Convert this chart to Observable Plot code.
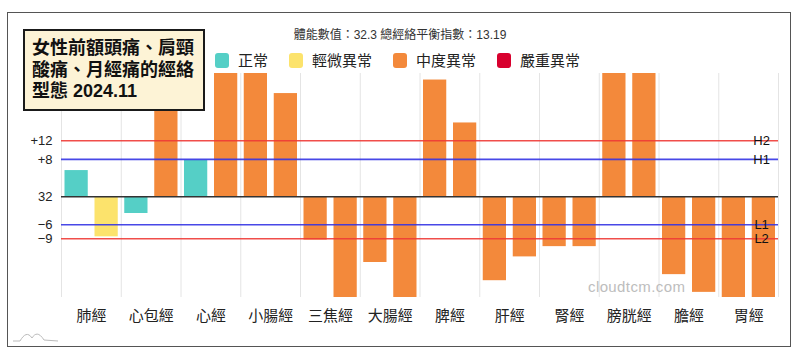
<!DOCTYPE html>
<html>
<head>
<meta charset="utf-8">
<script src="https://cdn.jsdelivr.net/npm/d3@7"></script>
<script src="https://cdn.jsdelivr.net/npm/@observablehq/plot@0.6"></script>
<style>
  body { margin: 0; background: #fff; }
  #wrap { position: relative; width: 800px; height: 359px; overflow: hidden;
          font-family: "Liberation Sans", "Noto Sans CJK TC", sans-serif; color: #222; }
  #chart { position: absolute; left: 0; top: 0; }
  #frame { position: absolute; left: 7px; top: 12px; width: 784px; height: 335px;
           border: 1.5px solid #555; box-sizing: border-box; pointer-events: none; }
  #subtitle { position: absolute; left: 0; width: 800px; top: 25px; text-align: center;
              font-size: 12px; color: #333; }
  #legend { position: absolute; left: 215px; top: 52px; display: flex; gap: 21px; }
  .item { display: flex; align-items: center; font-size: 15px; line-height: 17px; color: #222; }
  .sw { width: 14px; height: 15px; border-radius: 3px; margin-right: 9px; }
  #title { position: absolute; left: 23px; top: 29px; width: 182px; height: 82px; box-sizing: border-box;
           border: 2px solid #1a1a1a; background: #FDF3D6; padding: 7px 0 0 7px;
           font-weight: bold; font-size: 18px; line-height: 21.5px; color: #111; }
  #watermark { position: absolute; left: 588px; top: 278px; font-size: 15px; color: #bdbdbd; letter-spacing: 0.4px; }
  #logo { position: absolute; left: 0; top: 0; }
</style>
</head>
<body>
<div id="wrap">
  <div id="chart"></div>
  <div id="frame"></div>
  <div id="subtitle"></div>
  <div id="legend"></div>
  <div id="watermark">cloudtcm.com</div>
  <svg id="logo" width="800" height="359"><path d="M13,341 L20,341 C24,334 28,332 32,338 C35,333 39,332 44,340 L58,341" fill="none" stroke="#bbb" stroke-width="1"/></svg>
  <div id="title"></div>
</div>
<script>
// ---------- data ----------
const titleLines = ["女性前額頭痛、肩頸", "酸痛、月經痛的經絡", "型態 2024.11"];
const subtitleText = "體能數值：32.3 總經絡平衡指數：13.19";
const statusNames = ["正常", "輕微異常", "中度異常", "嚴重異常"];
const statusColors = ["#55CFC6", "#FCE36C", "#F3893B", "#D8002E"];

const meridians = ["肺經", "心包經", "心經", "小腸經", "三焦經", "大腸經", "脾經", "肝經", "腎經", "膀胱經", "膽經", "胃經"];
const leftValues  = [5.6, -3.6, 7.8, 28, -9.3, -14.1, 25.0, -18.0, -10.7, 28, -16.7, -24];
const rightValues = [-8.6, 28, 28, 22.1, -24, -24, 15.8, -12.9, -10.7, 28, -20.5, -24];
const leftStatus  = ["正常", "正常", "正常", "中度異常", "中度異常", "中度異常", "中度異常", "中度異常", "中度異常", "中度異常", "中度異常", "中度異常"];
const rightStatus = ["輕微異常", "中度異常", "中度異常", "中度異常", "中度異常", "中度異常", "中度異常", "中度異常", "中度異常", "中度異常", "中度異常", "中度異常"];

const yTickValues = [12, 8, 0, -6, -9];
const yTickLabels = ["+12", "+8", "32", "−6", "−9"];

const refValues = [12, 8, -6, -9];
const refLabels = ["H2", "H1", "L1", "L2"];
const refColors = ["#EE3B36", "#3434E4", "#3434E4", "#EE3B36"];

// ---------- build ----------
const colorOf = Object.fromEntries(statusNames.map((s, i) => [s, statusColors[i]]));
const leftData = meridians.map((m, i) => ({meridian: m, value: leftValues[i], status: leftStatus[i]}));
const rightData = meridians.map((m, i) => ({meridian: m, value: rightValues[i], status: rightStatus[i]}));
const refData = refValues.map((v, i) => ({value: v, label: refLabels[i], color: refColors[i]}));

document.getElementById("title").innerHTML = titleLines.map(t => `<div>${t}</div>`).join("");
document.getElementById("subtitle").textContent = subtitleText;
document.getElementById("legend").innerHTML = statusNames.map((s, i) =>
  `<div class="item"><div class="sw" style="background:${statusColors[i]}"></div>${s}</div>`).join("");

const halfBand = (778 - 61) / 12 / 2;

const plot = Plot.plot({
  width: 800,
  height: 359,
  marginLeft: 61,
  marginRight: 22,
  marginTop: 73,
  marginBottom: 62,
  style: {fontFamily: '"Liberation Sans", "Noto Sans CJK TC", sans-serif', fontSize: "15px", color: "#222", background: "transparent"},
  x: {domain: meridians, padding: 0, round: false, label: null, tickSize: 0, tickPadding: 13},
  y: {domain: [-21.6, 26.4], ticks: yTickValues, tickFormat: d => yTickLabels[yTickValues.indexOf(d)], label: null, tickSize: 0, tickPadding: 9},
  color: {type: "identity"},
  marks: [
    Plot.ruleX(meridians, {x: d => d, dx: -halfBand, stroke: "#e4e4e4", strokeWidth: 1}),
    Plot.ruleX(meridians.slice(-1), {x: d => d, dx: halfBand, stroke: "#e4e4e4", strokeWidth: 1}),
    Plot.barY(leftData, {x: "meridian", y: "value", fill: d => colorOf[d.status], insetLeft: 3.5, insetRight: 33, clip: true}),
    Plot.barY(rightData, {x: "meridian", y: "value", fill: d => colorOf[d.status], insetLeft: 33.5, insetRight: 3, clip: true}),
    Plot.ruleY(refData, {y: "value", stroke: "color", strokeWidth: 1.6, strokeOpacity: 0.9}),
    Plot.ruleY([0], {stroke: "#333", strokeWidth: 1.5}),
    Plot.text(refData, {x: () => meridians[meridians.length - 1], y: "value", text: "label", dx: 13, fontSize: 13, fill: "#111"})
  ]
});
document.getElementById("chart").appendChild(plot);
plot.querySelectorAll('g[aria-label^="y-axis"] text').forEach(t => t.setAttribute("font-size", "13"));
plot.querySelectorAll('g[aria-label^="y-axis"]').forEach(g => g.setAttribute("font-size", "13"));
</script>
</body>
</html>
